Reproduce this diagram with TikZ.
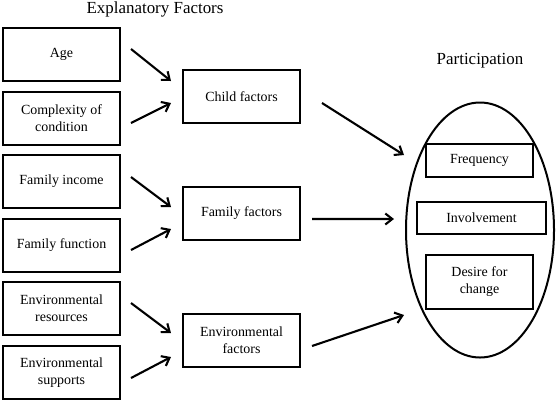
\documentclass[tikz,border=0pt]{standalone}
\usepackage{fontspec}
\setmainfont{Liberation Serif}
\usetikzlibrary{arrows.meta,calc,positioning,shapes.geometric}

\begin{document}
\begin{tikzpicture}[x=1bp,y=-1bp,
  factor/.style={draw, line width=2bp, minimum width=117bp, minimum height=53bp,
    align=center, inner sep=2bp, font=\fontsize{14}{17}\selectfont},
  item/.style={draw, line width=1.8bp, align=center, inner sep=2bp,
    font=\fontsize{14}{17}\selectfont},
  link/.style={line width=2.1bp, -{Straight Barb[length=7bp,width=11bp]}},
  heading/.style={font=\fontsize{17}{20}\selectfont}]
\useasboundingbox (0,0) rectangle (557,402);

% Headings
\node[heading] (explT) at (155,9) {Explanatory Factors};
\node[heading] (partT) at (480,61) {Participation};

% Explanatory factors (left column)
\node[factor] (age)       at (61.5,54.5)  {Age};
\node[factor] (complex)   at (61.5,118.5) {Complexity of\\condition};
\node[factor] (income)    at (61.5,181)   {Family income};
\node[factor] (function)  at (61.5,245)   {Family function};
\node[factor] (resources) at (61.5,308.5) {Environmental\\resources};
\node[factor] (supports)  at (61.5,372.5) {Environmental\\supports};

% Grouped factors (middle column)
\node[factor] (child)  at (241.5,96.5)  {Child factors};
\node[factor] (family) at (241.5,213.5) {Family factors};
\node[factor] (env)    at (241.5,340.5) {Environmental\\factors};

% Participation
\node[ellipse, draw, line width=2bp, minimum width=148bp, minimum height=255bp,
  inner sep=0pt] (part) at (480,230) {};
\node[item, minimum width=107bp, minimum height=33bp] (freq) at (479.5,160.5) {Frequency};
\node[item, minimum width=129bp, minimum height=32bp] (inv)  at (481.5,218)   {Involvement};
\node[item, minimum width=107bp, minimum height=54bp] (desire) at (479.5,282) {Desire for\\change};

% Arrows into the grouped factors
\draw[link] ($(age.east)+(10,-5.5)$)       -- ($(child.west)+(-11,-15.5)$);
\draw[link] ($(complex.east)+(10,4.5)$)    -- ($(child.west)+(-11,6.5)$);
\draw[link] ($(income.east)+(10,-4)$)      -- ($(family.west)+(-11,-6.5)$);
\draw[link] ($(function.east)+(10,5)$)     -- ($(family.west)+(-11,15.5)$);
\draw[link] ($(resources.east)+(10,-5.5)$) -- ($(env.west)+(-11,-7.5)$);
\draw[link] ($(supports.east)+(10,5.5)$)   -- ($(env.west)+(-11,16.5)$);

% Arrows into participation
\draw[link] ($(child.east)+(21,6.5)$)  -- ($(part.west)+(-1,-75)$);
\draw[link] ($(family.east)+(11,5.5)$) -- ($(part.west)+(-11,-11)$);
\draw[link] ($(env.east)+(11,5.5)$)    -- ($(part.west)+(-1,85)$);
\end{tikzpicture}
\end{document}
